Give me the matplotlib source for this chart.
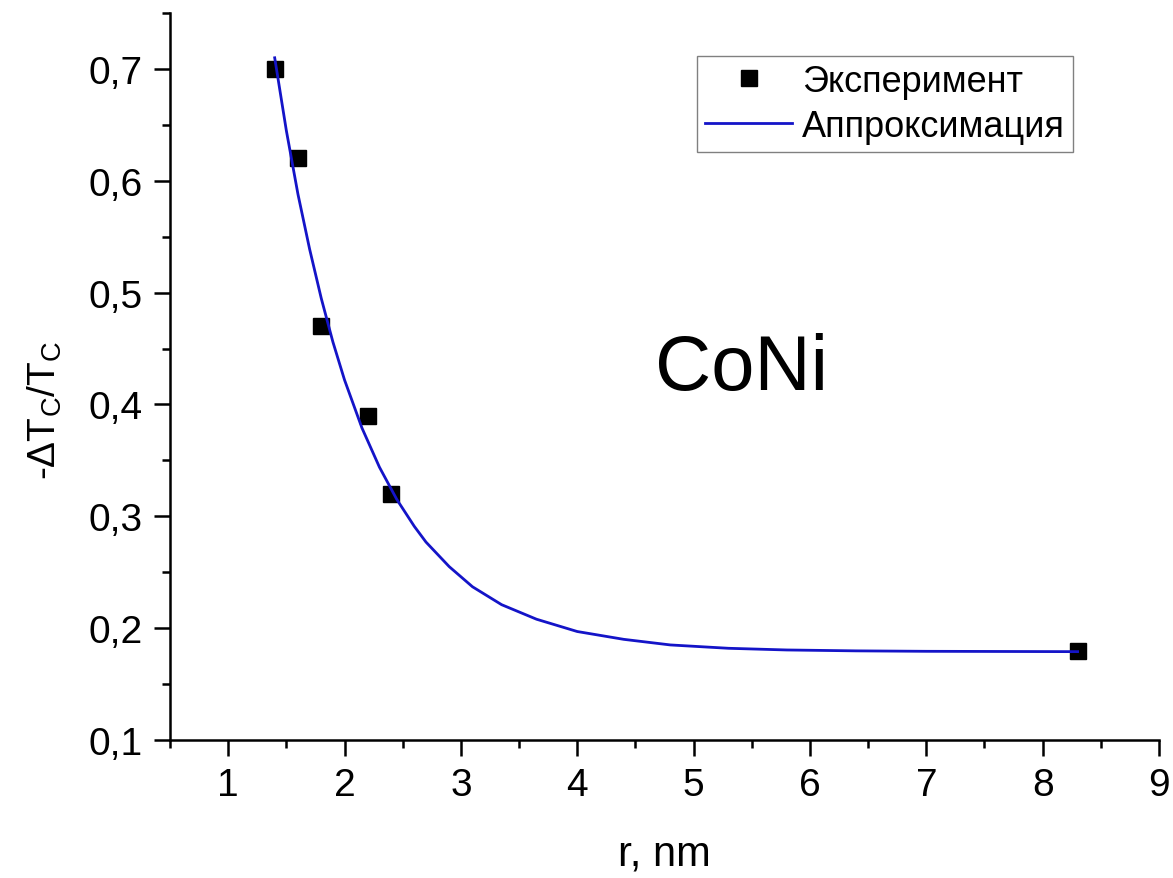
import matplotlib
matplotlib.use("Agg")
import matplotlib.pyplot as plt

# fonts: Arial-like, regular mathtext for the subscripts
plt.rcParams['font.family'] = ['Liberation Sans', 'DejaVu Sans']
plt.rcParams['mathtext.default'] = 'regular'

# measured points
r_exp = [1.4, 1.6, 1.8, 2.2, 2.4, 8.3]
dt_exp = [0.70, 0.62, 0.47, 0.39, 0.32, 0.18]

# approximation curve
r_fit = [1.40, 1.50, 1.60, 1.70, 1.80, 1.90, 2.00, 2.15, 2.30, 2.45, 2.60, 2.70,
         2.90, 3.10, 3.35, 3.65, 4.00, 4.40, 4.80, 5.30, 5.80, 6.40, 7.00, 8.30]
dt_fit = [0.710, 0.645, 0.588, 0.539, 0.495, 0.456, 0.422, 0.379, 0.344, 0.315, 0.291, 0.277,
          0.255, 0.237, 0.221, 0.208, 0.197, 0.190, 0.185, 0.182, 0.1805, 0.1797, 0.1793, 0.179]

x_ticks = [1, 2, 3, 4, 5, 6, 7, 8, 9]
y_ticks = [0.1, 0.2, 0.3, 0.4, 0.5, 0.6, 0.7]
y_tick_labels = ['0,1', '0,2', '0,3', '0,4', '0,5', '0,6', '0,7']

fig = plt.figure(figsize=(11.73, 8.79), dpi=100)
ax = fig.add_axes([0.1449, 0.157, 0.8432, 0.827])

ax.plot(r_exp, dt_exp, linestyle='none', marker='s', markersize=11.5,
        color='black', label='Эксперимент')
ax.plot(r_fit, dt_fit, color='#1414c8', linewidth=2.0, label='Аппроксимация')

ax.set_xlim(0.5, 9)
ax.set_ylim(0.1, 0.75)

ax.set_xticks(x_ticks)
ax.set_xticks([0.5 + i for i in range(9)], minor=True)
ax.set_yticks(y_ticks)
ax.set_yticklabels(y_tick_labels)
ax.set_yticks([0.15 + 0.1 * i for i in range(7)], minor=True)

for side in ['top', 'right']:
    ax.spines[side].set_visible(False)
for side in ['left', 'bottom']:
    ax.spines[side].set_linewidth(1.8)

ax.tick_params(which='major', length=11.5, width=1.8, labelsize=28, pad=8)
ax.tick_params(which='minor', length=5.8, width=1.8)

ax.set_xlabel('r, nm', fontsize=30)
ax.xaxis.set_label_coords(0.5, -0.129)
ax.set_ylabel('-ΔT$_C$/T$_C$', fontsize=28)
ax.yaxis.set_label_coords(-0.107, 0.455)

ax.text(0.578, 0.483, 'CoNi', transform=ax.transAxes, fontsize=56,
        ha='center', va='baseline')

leg = ax.legend(loc='upper right', bbox_to_anchor=(0.913, 0.941), fontsize=26,
                fancybox=False, framealpha=1, edgecolor='#808080',
                handlelength=2.4, handletextpad=0.28, borderpad=0.22,
                labelspacing=0.28, borderaxespad=0)
leg.get_frame().set_linewidth(1.0)

fig.savefig('out.png', dpi=100)
